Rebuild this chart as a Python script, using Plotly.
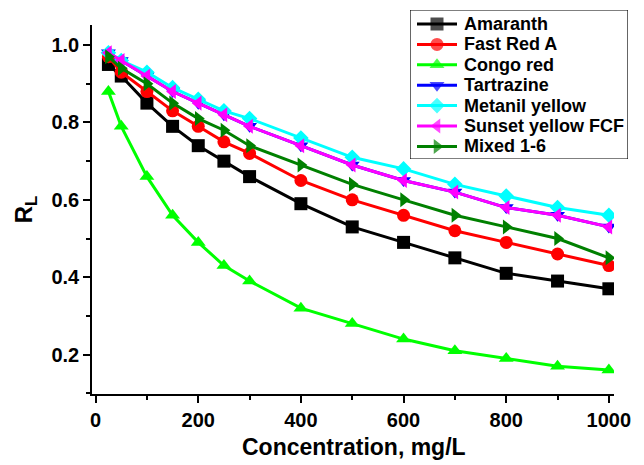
import plotly.graph_objects as go

conc = [25, 50, 100, 150, 200, 250, 300, 400, 500, 600, 700, 800, 900, 1000]
amaranth = [0.95, 0.92, 0.85, 0.79, 0.74, 0.70, 0.66, 0.59, 0.53, 0.49, 0.45, 0.41, 0.39, 0.37]
fast_red_a = [0.97, 0.93, 0.88, 0.83, 0.79, 0.75, 0.72, 0.65, 0.60, 0.56, 0.52, 0.49, 0.46, 0.43]
congo_red = [0.88, 0.79, 0.66, 0.56, 0.49, 0.43, 0.39, 0.32, 0.28, 0.24, 0.21, 0.19, 0.17, 0.16]
tartrazine = [0.98, 0.96, 0.92, 0.88, 0.85, 0.82, 0.79, 0.74, 0.69, 0.65, 0.62, 0.58, 0.56, 0.53]
metanil_yellow = [0.98, 0.96, 0.93, 0.89, 0.86, 0.83, 0.81, 0.76, 0.71, 0.68, 0.64, 0.61, 0.58, 0.56]
sunset_yellow = [0.98, 0.96, 0.92, 0.88, 0.85, 0.82, 0.79, 0.74, 0.69, 0.65, 0.62, 0.58, 0.56, 0.53]
mixed = [0.97, 0.94, 0.90, 0.85, 0.81, 0.78, 0.74, 0.69, 0.64, 0.60, 0.56, 0.53, 0.50, 0.45]

x_ticks = [0, 200, 400, 600, 800, 1000]
x_minor = [100, 300, 500, 700, 900]
y_ticks = [0.2, 0.4, 0.6, 0.8, 1.0]
y_tick_text = ["0.2", "0.4", "0.6", "0.8", "1.0"]
y_minor = [0.1, 0.3, 0.5, 0.7, 0.9]

series = [
    ("Amaranth", amaranth, "#000000", "square", 13),
    ("Fast Red A", fast_red_a, "#FF0000", "circle", 13),
    ("Congo red", congo_red, "#00FF00", "triangle-up", 13),
    ("Tartrazine", tartrazine, "#0000FF", "triangle-down", 13),
    ("Metanil yellow", metanil_yellow, "#00FFFF", "diamond", 12),
    ("Sunset yellow FCF", sunset_yellow, "#FF00FF", "triangle-left", 13),
    ("Mixed 1-6", mixed, "#008000", "triangle-right", 13),
]

font = "Arial, Liberation Sans, sans-serif"
fig = go.Figure()
for name, vals, color, sym, msize in series:
    fig.add_trace(go.Scatter(
        x=conc, y=vals, name=name, mode="lines+markers",
        line=dict(color=color, width=3),
        marker=dict(symbol=sym, size=msize, color=color, line=dict(width=0)),
        showlegend=False,
    ))

# custom legend drawn in its own hidden axes (pixel-like units)
LEG_W, LEG_H = 218, 149
row0, row_step = 14, 20.4
annotations = []
for i, (name, vals, color, sym, msize) in enumerate(series):
    yy = row0 + i * row_step
    fig.add_trace(go.Scatter(
        x=[7, 27, 47], y=[yy, yy, yy], mode="lines+markers",
        line=dict(color=color, width=3),
        marker=dict(symbol=sym, size=[0, msize, 0], color=color, line=dict(width=0)),
        xaxis="x2", yaxis="y2", showlegend=False, hoverinfo="skip",
    ))
    annotations.append(dict(
        x=52, y=yy, xref="x2", yref="y2", text=name, showarrow=False,
        xanchor="left", yanchor="middle",
        font=dict(size=18, family=font, color="black", weight="bold"),
    ))

W, H = 644, 465
ml, mr, mt, mb = 92, 8, 8, 71
pw, ph = W - ml - mr, H - mt - mb
def px_x(p):
    return (p - ml) / pw
def px_y(p):
    return (H - mb - p) / ph

# x-axis title placed as an annotation for exact vertical position
annotations.append(dict(
    x=px_x(354), y=px_y(447), xref="paper", yref="paper", text="Concentration, mg/L",
    showarrow=False, xanchor="center", yanchor="middle",
    font=dict(size=23, family=font, color="black", weight="bold"),
))

fig.update_layout(
    width=W, height=H,
    margin=dict(l=ml, r=mr, t=mt, b=mb, autoexpand=False),
    plot_bgcolor="white", paper_bgcolor="white",
    font=dict(family=font, color="black"),
    showlegend=False,
    annotations=annotations,
    shapes=[dict(type="rect", xref="x2", yref="y2", x0=0, x1=LEG_W, y0=0, y1=LEG_H,
                 line=dict(color="black", width=1.2), fillcolor="rgba(0,0,0,0)", layer="below")],
    xaxis=dict(
        domain=[0, px_x(614)], automargin=False,
        range=[-7, 1010], tickmode="array", tickvals=x_ticks,
        ticks="outside", ticklen=7, tickwidth=1.5, tickcolor="black",
        minor=dict(tickvals=x_minor, ticks="outside", ticklen=4, tickwidth=1.5, tickcolor="black"),
        showline=True, linecolor="black", linewidth=1.5, showgrid=False, zeroline=False,
        tickfont=dict(size=20, weight="bold"),
    ),
    yaxis=dict(
        domain=[0, px_y(25)], automargin=False,
        range=[0.098, 1.052], tickmode="array", tickvals=y_ticks, ticktext=y_tick_text,
        ticks="outside", ticklen=7, tickwidth=1.5, tickcolor="black",
        minor=dict(tickvals=y_minor, ticks="outside", ticklen=4, tickwidth=1.5, tickcolor="black"),
        showline=True, linecolor="black", linewidth=1.5, showgrid=False, zeroline=False,
        tickfont=dict(size=20, weight="bold"),
        title=dict(text="R<sub>L</sub>", font=dict(size=24, weight="bold"), standoff=12),
    ),
    xaxis2=dict(domain=[px_x(410), px_x(628)], range=[0, LEG_W], visible=False,
                anchor="y2", fixedrange=True, automargin=False),
    yaxis2=dict(domain=[px_y(159), px_y(10)], range=[LEG_H, 0], visible=False,
                anchor="x2", fixedrange=True, automargin=False),
)

fig.write_html("out.html")
